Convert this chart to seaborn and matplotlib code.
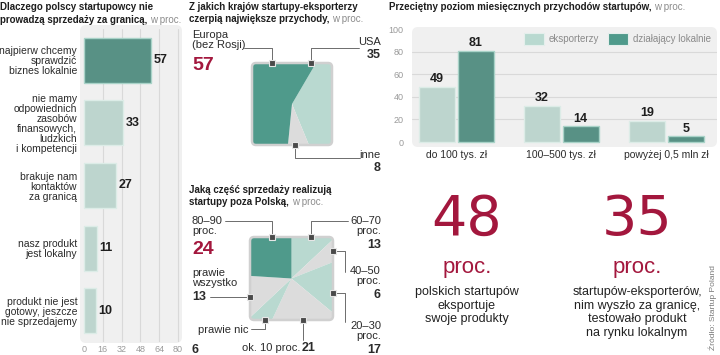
import numpy as np
import pandas as pd
import seaborn as sns
import matplotlib.pyplot as plt
import matplotlib.patches as mpatches
from matplotlib.lines import Line2D

# --- data ---
reason_labels = ["najpierw chcemy\nsprawdzić\nbiznes lokalnie",
                 "nie mamy\nodpowiednich\nzasobów\nfinansowych,\nludzkich\ni kompetencji",
                 "brakuje nam\nkontaktów\nza granicą",
                 "nasz produkt\njest lokalny",
                 "produkt nie jest\ngotowy, jeszcze\nnie sprzedajemy"]
reason_values = [57, 33, 27, 11, 10]

country_labels = ["USA", "inne", "Europa\n(bez Rosji)"]
country_values = [35, 8, 57]

share_labels = ["60–70\nproc.", "40–50\nproc.", "20–30\nproc.", "ok. 10 proc.",
                "prawie nic", "prawie\nwszystko", "80–90\nproc."]
share_values = [13, 6, 17, 21, 6, 13, 24]

revenue_cats = ["do 100 tys. zł", "100–500 tys. zł", "powyżej 0,5 mln zł"]
exporters = [49, 32, 19]
local_only = [81, 14, 5]
series_names = ["eksporterzy", "działający lokalnie"]

big_numbers = [48, 35]
big_texts = ["polskich startupów\neksportuje\nswoje produkty",
             "startupów-eksporterów,\nnim wyszło za granicę,\ntestowało produkt\nna rynku lokalnym"]

DARK = "#4f9a8b"
LIGHT = "#b9d9d0"
GREY = "#dcdcdc"
PANEL = "#f0f0f0"
RED = "#a3173d"
TXT = "#2b2b2b"

sns.set_style("white")
plt.rcParams['font.family'] = ['Liberation Sans', 'DejaVu Sans']

W, H = 720, 355
fig = plt.figure(figsize=(7.2, 3.55), dpi=100)


def fx(x):
    return x / W


def fy(y):
    return 1 - y / H


def px_axes(x0, y0, x1, y1):
    return fig.add_axes([fx(x0), fy(y1), (x1 - x0) / W, (y1 - y0) / H])


def panel(x0, y0, x1, y1):
    p = mpatches.FancyBboxPatch((fx(x0), fy(y1)), (x1 - x0) / W, (y1 - y0) / H,
                                boxstyle="round,pad=0,rounding_size=%f" % (6 / W),
                                mutation_aspect=W / H, transform=fig.transFigure,
                                fc=PANEL, ec="none", zorder=-5)
    fig.patches.append(p)


def txt(x, y, s, **kw):
    kw.setdefault("color", TXT)
    kw.setdefault("fontsize", 8)
    kw.setdefault("va", "center")
    return fig.text(fx(x), fy(y), s, **kw)


renderer = fig.canvas.get_renderer()


def title_line(x, y, bold, light=None):
    t = txt(x, y, bold, fontweight="bold", color="#1e1e1e", fontsize=7)
    if light:
        bb = t.get_window_extent(renderer)
        txt(bb.x1 + 3, y, light, color="#8c8c8c", fontsize=7)


def leader(xs, ys):
    fig.add_artist(Line2D([fx(v) for v in xs], [fy(v) for v in ys],
                          color="#555555", lw=0.6, transform=fig.transFigure))


def marker(x, y):
    fig.add_artist(Line2D([fx(x)], [fy(y)], marker="s", ms=4.5, mfc="#4a4a4a",
                          mec="#e6e6e6", mew=0.8, transform=fig.transFigure, zorder=5))


# --- left panel: reasons ---
title_line(0, 7, "Dlaczego polscy startupowcy nie")
title_line(0, 20, "prowadzą sprzedaży za granicą,", "w proc.")
panel(80, 25, 182, 343)
ax1 = px_axes(80, 29, 182, 342)
ax1.set_facecolor("none")
sns.barplot(x=reason_values, y=reason_labels, hue=reason_labels, orient="h",
            palette=[DARK] + [LIGHT] * 4, legend=False, width=0.72, ax=ax1)
for bar, v in zip(ax1.patches, reason_values):
    bar.set_edgecolor("#a9d3c8" if v == max(reason_values) else "#dcece7")
    bar.set_linewidth(1)
for c in ax1.containers:
    ax1.bar_label(c, fontsize=9, fontweight="bold", color="#1e1e1e", padding=2)
ax1.set_xlim(-3.4, 83.4)
ax1.set_ylim(4.5, -0.5)
for g in [16, 32, 48, 64, 80]:
    ax1.axvline(g, color="#d9d9d9", lw=0.8, zorder=0)
ax1.set_xticks([0, 16, 32, 48, 64, 80])
ax1.tick_params(axis="x", labelsize=6.5, labelcolor="#9a9a9a", length=0, pad=2)
ax1.tick_params(axis="y", labelsize=7.5, labelcolor=TXT, length=0, pad=2)
for t in ax1.get_yticklabels():
    t.set_linespacing(1.0)
ax1.set_xlabel("")
ax1.set_ylabel("")
sns.despine(ax=ax1, left=True, bottom=True)


# --- square pies ---
def square_pie(ax, values, colors, start):
    ax.set_xlim(-1, 1)
    ax.set_ylim(-1, 1)
    ax.axis("off")
    box = mpatches.FancyBboxPatch((-1, -1), 2, 2, boxstyle="round,pad=0,rounding_size=0.1",
                                  fc="none", ec="#d0d0d0", lw=1.8, zorder=3, clip_on=False)
    ax.add_patch(box)
    angle = start
    total = sum(values)
    for v, c in zip(values, colors):
        span = 360 * v / total
        w = mpatches.Wedge((0, 0), 2, 90 - angle - span, 90 - angle, fc=c, ec="none")
        ax.add_patch(w)
        w.set_clip_path(box)
        angle += span


title_line(189, 7, "Z jakich krajów startupy-eksporterzy")
title_line(189, 19, "czerpią największe przychody,", "w proc.")
axp1 = px_axes(252, 63, 332, 145)
square_pie(axp1, country_values, [LIGHT, GREY, DARK], 31)

txt(192, 40, country_labels[2], linespacing=0.95)
txt(192, 65, str(country_values[2]), fontsize=14, fontweight="bold", color=RED)
leader([244, 272, 272], [48, 48, 63])
marker(272, 63)
txt(381, 42, country_labels[0], ha="right")
txt(381, 55, str(country_values[0]), ha="right", fontsize=9, fontweight="bold")
leader([359, 311, 311], [48, 48, 63])
marker(311, 63)
txt(381, 155, country_labels[1], ha="right")
txt(381, 168, str(country_values[1]), ha="right", fontsize=9, fontweight="bold")
leader([295, 295, 360], [145, 158, 158])
marker(295, 145)

title_line(189, 190, "Jaką część sprzedaży realizują")
title_line(189, 202, "startupy poza Polską,", "w proc.")
axp2 = px_axes(250, 237, 333, 320)
square_pie(axp2, share_values, [LIGHT, GREY, LIGHT, GREY, LIGHT, GREY, DARK], 0)

# 80-90
txt(192, 226, share_labels[6], linespacing=0.95)
txt(192, 250, str(share_values[6]), fontsize=14, fontweight="bold", color=RED)
leader([225, 272, 272], [221, 221, 237])
marker(272, 237)
# 60-70
txt(381, 226, share_labels[0], ha="right", multialignment="right", linespacing=0.95)
txt(381, 245, str(share_values[0]), ha="right", fontsize=9, fontweight="bold")
leader([348, 311, 311], [221, 221, 237])
marker(311, 237)
# 40-50
txt(381, 276, share_labels[1], ha="right", multialignment="right", linespacing=0.95)
txt(381, 295, str(share_values[1]), ha="right", fontsize=9, fontweight="bold")
leader([333, 345, 345], [251, 251, 272])
marker(333, 251)
# 20-30
txt(381, 331, share_labels[2], ha="right", multialignment="right", linespacing=0.95)
txt(381, 350, str(share_values[2]), ha="right", fontsize=9, fontweight="bold")
leader([333, 345, 345], [293, 293, 322])
marker(333, 293)
# ok. 10
txt(300, 348, share_labels[3], ha="right")
txt(302, 348, str(share_values[3]), fontsize=9, fontweight="bold")
leader([303, 303], [320, 340])
marker(303, 320)
# prawie nic
txt(249, 330, share_labels[4], ha="right")
txt(192, 350, str(share_values[4]), fontsize=9, fontweight="bold")
leader([265, 265, 251], [320, 329, 329])
marker(265, 320)
# prawie wszystko
txt(192, 278, share_labels[5], linespacing=0.95)
txt(192, 297, str(share_values[5]), fontsize=9, fontweight="bold")
leader([210, 250], [297, 297])
marker(250, 297)

# --- top right: revenue ---
title_line(389, 7, "Przeciętny poziom miesięcznych przychodów startupów,", "w proc.")
panel(412, 27, 717, 147)
ax3 = px_axes(412, 27, 717, 147)
ax3.set_facecolor("none")
rev = pd.DataFrame({
    "cat": revenue_cats * 2,
    "series": [series_names[0]] * 3 + [series_names[1]] * 3,
    "value": exporters + local_only,
})
sns.barplot(data=rev, x="cat", y="value", hue="series", palette=[LIGHT, DARK],
            width=0.74, gap=0.08, legend=False, ax=ax3)
for c, ec in zip(ax3.containers, ["#dcece7", "#a9d3c8"]):
    for b in c:
        b.set_edgecolor(ec)
        b.set_linewidth(1)
    ax3.bar_label(c, fontsize=9, fontweight="bold", color="#1e1e1e", padding=1)
ax3.set_xlim(-0.42, 2.48)
ax3.set_ylim(-4.4, 101.8)
for g in [20, 40, 60, 80]:
    ax3.axhline(g, color="#d9d9d9", lw=0.8, zorder=0)
ax3.set_yticks([0, 20, 40, 60, 80, 100])
ax3.tick_params(axis="y", labelsize=6.5, labelcolor="#9a9a9a", length=0, pad=6)
ax3.tick_params(axis="x", labelsize=7.5, labelcolor=TXT, length=0, pad=2)
ax3.set_xlabel("")
ax3.set_ylabel("")
sns.despine(ax=ax3, left=True, bottom=True)

# legend
for x0, col, name in [(524, LIGHT, series_names[0]), (608, DARK, series_names[1])]:
    fig.patches.append(mpatches.Rectangle((fx(x0), fy(45)), 20 / W, 12 / H, fc=col,
                                          ec="#e4efec", lw=0.8, transform=fig.transFigure))
    txt(x0 + 25, 39, name, color="#8a8a8a", fontsize=7)

# --- big numbers ---
for xc, num, desc in zip([467, 637], big_numbers, big_texts):
    txt(xc, 220, str(num), ha="center", fontsize=40, color=RED,
        family=["DejaVu Sans"])
    txt(xc, 267, "proc.", ha="center", fontsize=16, color=RED)
    txt(xc, 286, desc, ha="center", va="top", fontsize=9, linespacing=1.17,
        color="#222222")

txt(713, 308, "Źródło: Startup Poland", rotation=90, ha="center", fontsize=6,
    color="#7a7a7a")

fig.savefig("out.png", dpi=100)
